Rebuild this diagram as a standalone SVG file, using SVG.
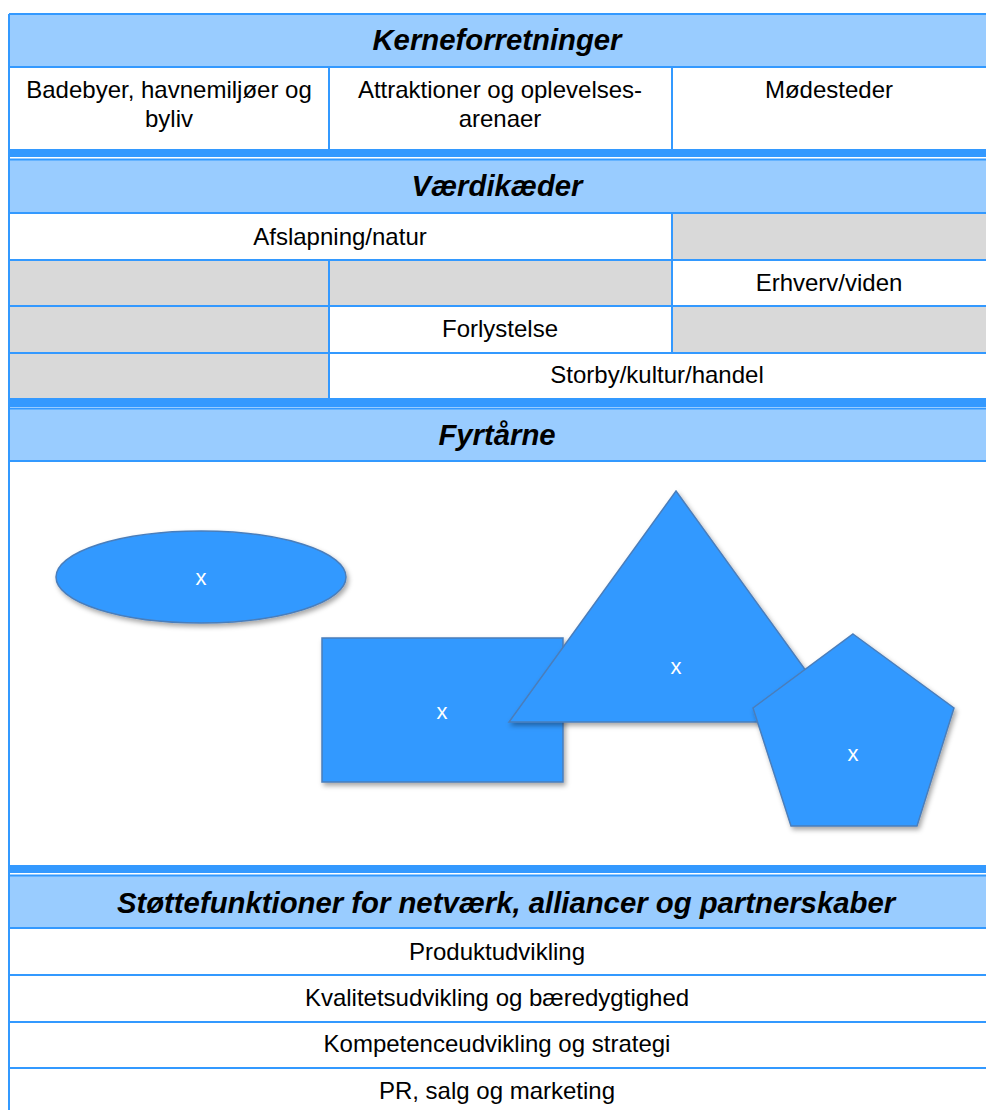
<svg xmlns="http://www.w3.org/2000/svg" width="986" height="1110" viewBox="0 0 986 1110">
<defs>
<style>
.hdr{fill:#99CCFF}
.band{fill:#3399FF}
.grey{fill:#D9D9D9}
.ln{stroke:#3399FF;stroke-width:2;fill:none}
.ht{font-family:"Liberation Sans",Arial,sans-serif;font-size:29.3px;font-weight:bold;font-style:italic;fill:#000;text-anchor:middle}
.bt{font-family:"Liberation Sans",Arial,sans-serif;font-size:24px;fill:#000;text-anchor:middle}
.shape{fill:#3399FF;stroke:#4A7EBB;stroke-width:1.5;filter:url(#sh)}
.xt{font-family:"Liberation Sans",Arial,sans-serif;font-size:22px;fill:#FFFFFF;text-anchor:middle}
</style>
<filter id="sh" x="-20%" y="-20%" width="150%" height="150%">
<feDropShadow dx="2" dy="3" stdDeviation="2.5" flood-color="#000" flood-opacity="0.35"/>
</filter>
</defs>
<rect width="986" height="1110" fill="#FFFFFF"/>

<g id="kerneforretninger">
<rect class="hdr" x="9" y="14" width="977" height="53"/>
<text class="ht" x="497" y="50">Kerneforretninger</text>
<text class="bt" x="169" y="98">Badebyer, havnemiljøer og</text>
<text class="bt" x="169" y="127">byliv</text>
<text class="bt" x="500" y="98">Attraktioner og oplevelses-</text>
<text class="bt" x="500" y="127">arenaer</text>
<text class="bt" x="829" y="98">Mødesteder</text>
<rect class="band" x="9" y="149" width="977" height="8"/>
</g>

<g id="vaerdikaeder">
<rect class="hdr" x="9" y="160" width="977" height="53"/>
<text class="ht" x="497" y="196">Værdikæder</text>
<rect class="grey" x="672" y="213" width="314" height="47"/>
<rect class="grey" x="9" y="260" width="663" height="46"/>
<rect class="grey" x="9" y="306" width="320" height="47"/>
<rect class="grey" x="672" y="306" width="314" height="47"/>
<rect class="grey" x="9" y="353" width="320" height="45"/>
<text class="bt" x="340" y="245">Afslapning/natur</text>
<text class="bt" x="829" y="291">Erhverv/viden</text>
<text class="bt" x="500" y="337">Forlystelse</text>
<text class="bt" x="657" y="383">Storby/kultur/handel</text>
<rect class="band" x="9" y="398" width="977" height="9"/>
</g>

<g id="fyrtaarne">
<rect class="hdr" x="9" y="409" width="977" height="52"/>
<text class="ht" x="497" y="445">Fyrtårne</text>
</g>

<g id="shape-ellipse">
<ellipse class="shape" cx="201" cy="577" rx="145" ry="46"/>
<text class="xt" x="201" y="585">x</text>
</g>
<g id="shape-rect">
<rect class="shape" x="322" y="638" width="241" height="144"/>
<text class="xt" x="442" y="719">x</text>
</g>
<g id="shape-triangle">
<polygon class="shape" points="676,491 843,722 509,722"/>
<text class="xt" x="676" y="674">x</text>
</g>
<g id="shape-pentagon">
<polygon class="shape" points="853,634 954,708 917,826 791,826 753,708"/>
<text class="xt" x="853" y="761">x</text>
</g>

<g id="stoettefunktioner">
<rect class="band" x="9" y="865" width="977" height="8"/>
<rect class="hdr" x="9" y="876" width="977" height="52"/>
<text class="ht" x="506" y="913">Støttefunktioner for netværk, alliancer og partnerskaber</text>
<text class="bt" x="497" y="960">Produktudvikling</text>
<text class="bt" x="497" y="1006">Kvalitetsudvikling og bæredygtighed</text>
<text class="bt" x="497" y="1052">Kompetenceudvikling og strategi</text>
<text class="bt" x="497" y="1099">PR, salg og marketing</text>
</g>

<g id="connectors">
<path class="ln" d="M9,14H986 M9,14V1110 M9,67H986 M329,67V149 M672,67V149"/>
<path class="ln" d="M9,159.5H986 M9,213H986 M9,260H986 M9,306H986 M9,353H986 M672,213V353 M329,260V398"/>
<path class="ln" d="M9,408.5H986 M9,461H986"/>
<path class="ln" d="M9,875.5H986 M9,928H986 M9,975H986 M9,1022H986 M9,1068H986"/>
</g>
</svg>
